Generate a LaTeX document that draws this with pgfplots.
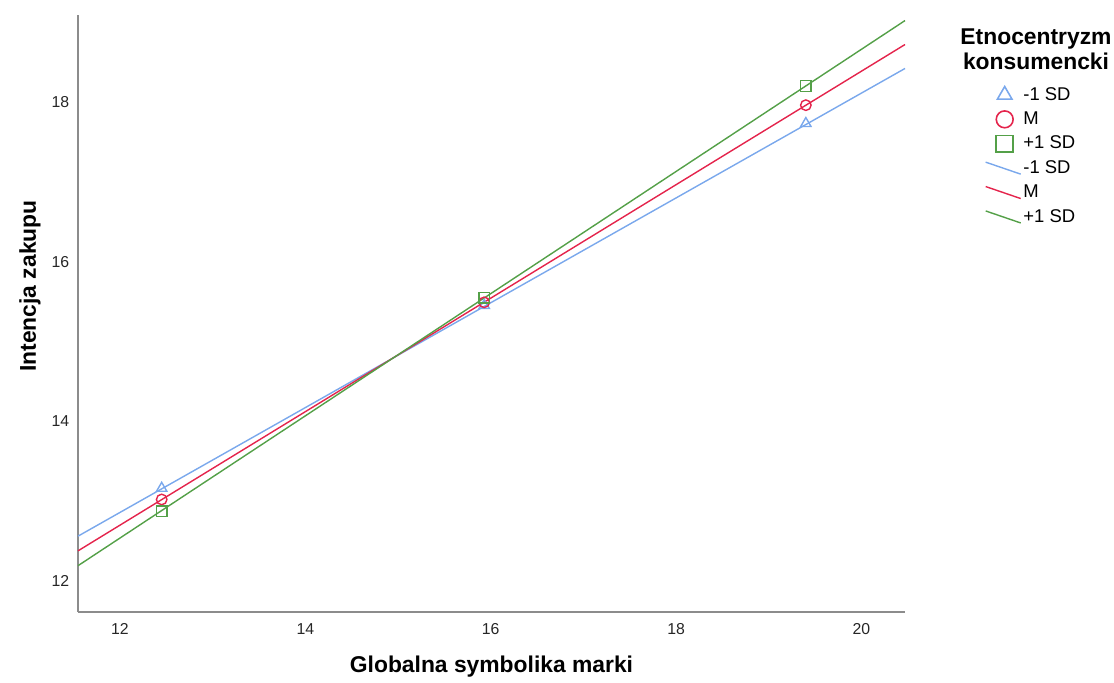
\documentclass[border=0pt]{standalone}
\usepackage{fontspec}
\setmainfont{Liberation Sans}
\usepackage{pgfplots}
\pgfplotsset{compat=1.18}
\definecolor{sdlow}{RGB}{122,168,236}
\definecolor{sdmid}{RGB}{228,36,76}
\definecolor{sdhigh}{RGB}{84,160,72}
\definecolor{axisgray}{RGB}{140,140,140}

\pgfplotsset{
  markentry/.style={
      legend image code/.code={
          \path[draw=none, fill=none] (0cm,-0.12cm) rectangle (0.7cm,0.12cm);
          \draw[##1, mark size=4.8pt, line width=0.9pt] plot coordinates {(0.38cm,0cm)};
        },
    },
  lineentry/.style={
      legend image code/.code={
          \path[draw=none, fill=none] (0cm,-0.12cm) rectangle (0.7cm,0.12cm);
          \draw[##1] (0cm,0.12cm) -- (0.7cm,-0.12cm);
        },
    },
}

\begin{document}
\begin{tikzpicture}

  \begin{axis}[
      width=16.54cm, height=11.94cm, scale only axis,
      xmin=11.547, xmax=20.47,
      ymin=11.61, ymax=19.09,
      axis lines*=left,
      axis line style={axisgray, line width=0.9pt},
      xtick={12,14,16,18,20},
      ytick={12,14,16,18},
      major tick length=0pt,
      /pgf/number format/assume math mode=true,
      tick label style={font=\fontsize{9}{10}\selectfont, text=black!85},
      xticklabel style={yshift=-0.1cm},
      yticklabel style={xshift=-0.05cm},
      xlabel={Globalna symbolika marki},
      ylabel={Intencja zakupu},
      label style={font=\fontsize{13}{15}\selectfont\bfseries},
      xlabel style={at={(rel axis cs:0.5,-0.0921)}, anchor=center},
      ylabel style={at={(rel axis cs:-0.058,0.546)}, anchor=center},
      clip=false,
      legend style={
          at={(rel axis cs:1.0967,0.8865)},
          anchor=north west,
          draw=none, fill=none,
          inner sep=0pt, outer sep=0pt,
          font=\fontsize{10.5}{12}\selectfont,
          nodes={inner sep=0pt, minimum height=0.488cm},
          column sep=0.04cm,
          cells={anchor=west},
        },
    ]

    % points at -1 SD, mean and +1 SD of the predictor
    \addplot[only marks, sdlow, mark=triangle, mark size=3.4pt, line width=0.8pt, markentry]
    coordinates {(12.45,13.16) (15.93,15.45) (19.40,17.73)};
    \addlegendentry{-1 SD}
    \addplot[only marks, sdmid, mark=o, mark size=3pt, line width=0.8pt, markentry]
    coordinates {(12.45,13.02) (15.93,15.49) (19.40,17.96)};
    \addlegendentry{M}
    \addplot[only marks, sdhigh, mark=square, mark size=3pt, line width=0.8pt, markentry]
    coordinates {(12.45,12.87) (15.93,15.55) (19.40,18.20)};
    \addlegendentry{+1 SD}

    % fitted lines
    \addplot[sdlow, line width=0.8pt, lineentry]
    coordinates {(11.547,12.56) (20.47,18.42)};
    \addlegendentry{-1 SD}
    \addplot[sdmid, line width=0.8pt, lineentry]
    coordinates {(11.547,12.376) (20.47,18.72)};
    \addlegendentry{M}
    \addplot[sdhigh, line width=0.8pt, lineentry]
    coordinates {(11.547,12.19) (20.47,19.02)};
    \addlegendentry{+1 SD}

    \node[align=center, font=\fontsize{13}{14}\selectfont\bfseries]
    at (rel axis cs:1.1584,0.943) {Etnocentryzm\\konsumencki};

    \coordinate (bl) at (rel axis cs:-0.0943,-0.1173);
    \coordinate (tr) at (rel axis cs:1.2527,1.0251);
  \end{axis}

  \pgfresetboundingbox
  \useasboundingbox (bl) rectangle (tr);

\end{tikzpicture}
\end{document}
